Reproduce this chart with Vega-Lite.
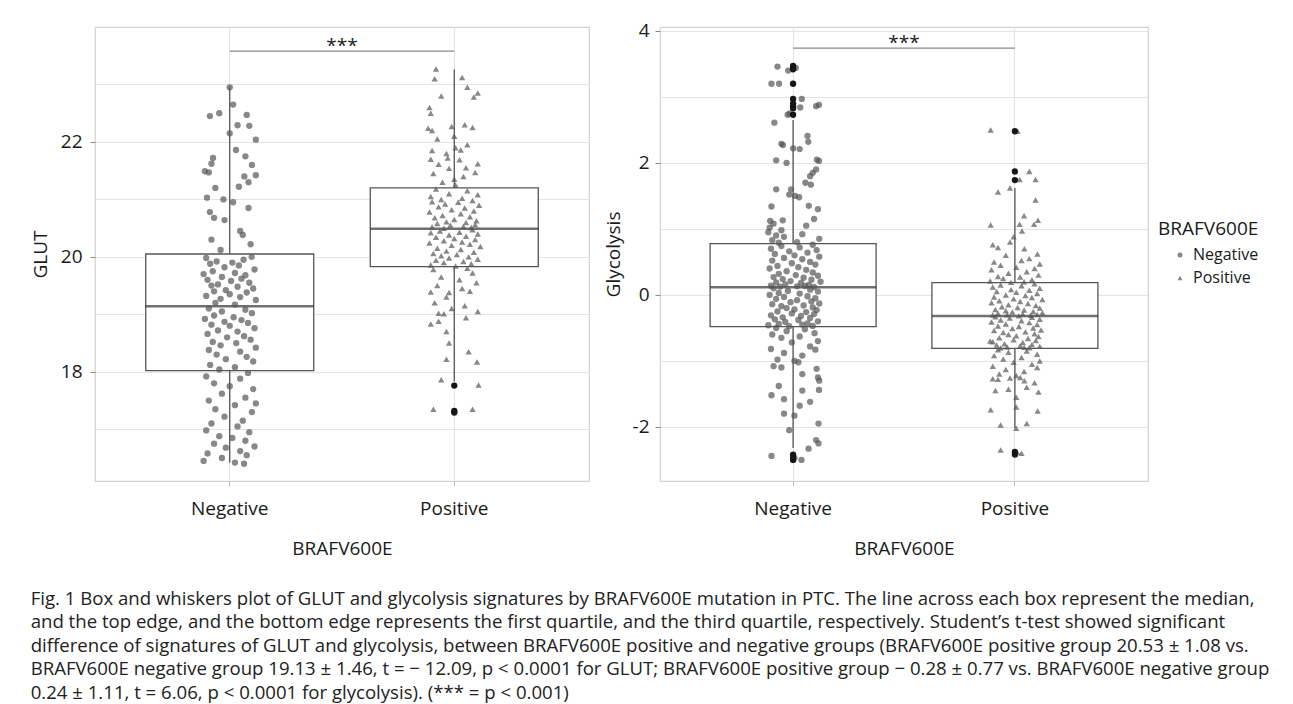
{
"$schema": "https://vega.github.io/schema/vega-lite/v6.json",
"background": "white",
"padding": {"left": 30, "top": 21, "right": 5, "bottom": 5},
"config": {
  "font": "Open Sans",
  "view": {"stroke": "#d2d2d2", "strokeWidth": 1.2},
  "axis": {"labelFont": "Open Sans", "titleFont": "Open Sans", "labelFontSize": 19, "titleFontSize": 19, "titleFontWeight": "normal", "labelColor": "#1a1a1a", "titleColor": "#1a1a1a", "gridColor": "#e4e4e4", "gridWidth": 1.2, "domain": false, "tickColor": "#bdbdbd", "tickSize": 5}
},
"title": {
  "text": [
    "Fig. 1 Box and whiskers plot of GLUT and glycolysis signatures by BRAFV600E mutation in PTC. The line across each box represent the median,",
    "and the top edge, and the bottom edge represents the first quartile, and the third quartile, respectively. Student’s t-test showed significant",
    "difference of signatures of GLUT and glycolysis, between BRAFV600E positive and negative groups (BRAFV600E positive group 20.53 ± 1.08 vs.",
    "BRAFV600E negative group 19.13 ± 1.46, t = − 12.09, p < 0.0001 for GLUT; BRAFV600E positive group − 0.28 ± 0.77 vs. BRAFV600E negative group",
    "0.24 ± 1.11, t = 6.06, p < 0.0001 for glycolysis). (*** = p < 0.001)"
  ],
  "orient": "bottom", "anchor": "start", "frame": "bounds", "font": "Open Sans", "fontSize": 18.6, "fontWeight": "normal", "color": "#222222", "lineHeight": 23.5, "offset": 31, "dx": 0
},
"datasets": {
  "glutBox": [
    {"g": "Negative", "lower": 16.42, "q1": 18.02, "median": 19.14, "q3": 20.05, "upper": 22.95},
    {"g": "Positive", "lower": 17.83, "q1": 19.83, "median": 20.49, "q3": 21.2, "upper": 23.26}
  ],
  "glutOut": [
    {"g": "Positive", "v": 17.76}, {"g": "Positive", "v": 17.32}, {"g": "Positive", "v": 17.29}
  ],
  "glutSig": [{"from": "Negative", "to": "Positive", "y": 23.58, "label": "***"}],
  "glyBox": [
    {"g": "Negative", "lower": -2.32, "q1": -0.48, "median": 0.116, "q3": 0.777, "upper": 2.65},
    {"g": "Positive", "lower": -2.02, "q1": -0.81, "median": -0.32, "q3": 0.186, "upper": 1.62}
  ],
  "glyOut": [
    {"g": "Negative", "v": 3.47}, {"g": "Negative", "v": 3.42}, {"g": "Negative", "v": 3.44}, {"g": "Negative", "v": 3.2}, {"g": "Negative", "v": 2.97}, {"g": "Negative", "v": 2.9}, {"g": "Negative", "v": 2.86}, {"g": "Negative", "v": 2.83}, {"g": "Negative", "v": 2.73}, {"g": "Negative", "v": -2.42}, {"g": "Negative", "v": -2.47}, {"g": "Negative", "v": -2.5},
    {"g": "Positive", "v": 2.48}, {"g": "Positive", "v": 1.87}, {"g": "Positive", "v": 1.74}, {"g": "Positive", "v": -2.38}, {"g": "Positive", "v": -2.42}
  ],
  "glySig": [{"from": "Negative", "to": "Positive", "y": 3.74, "label": "***"}],
  "glut": [
    {"g":"Negative","v":22.95,"j":0},{"g":"Negative","v":22.65,"j":0.013},{"g":"Negative","v":22.5,"j":-0.04},{"g":"Negative","v":22.45,"j":-0.076},{"g":"Negative","v":22.47,"j":0.065},{"g":"Negative","v":22.29,"j":0.03},{"g":"Negative","v":22.28,"j":0.075},{"g":"Negative","v":22.15,"j":0},{"g":"Negative","v":22.04,"j":0.1},{"g":"Negative","v":21.86,"j":0.024},{"g":"Negative","v":21.72,"j":-0.064},{"g":"Negative","v":21.75,"j":0.06},{"g":"Negative","v":21.62,"j":-0.07},{"g":"Negative","v":21.6,"j":0.085},{"g":"Negative","v":21.49,"j":-0.095},{"g":"Negative","v":21.47,"j":-0.08},{"g":"Negative","v":21.4,"j":0.056},{"g":"Negative","v":21.42,"j":0.1},{"g":"Negative","v":21.22,"j":0.035},{"g":"Negative","v":21.3,"j":0.072},{"g":"Negative","v":21.2,"j":-0.055},{"g":"Negative","v":21.03,"j":-0.087},{"g":"Negative","v":21.0,"j":-0.024},{"g":"Negative","v":20.95,"j":0.013},{"g":"Negative","v":20.85,"j":0.072},{"g":"Negative","v":20.78,"j":-0.076},{"g":"Negative","v":20.64,"j":-0.02},{"g":"Negative","v":20.68,"j":-0.06},{"g":"Negative","v":20.45,"j":0.04},{"g":"Negative","v":20.38,"j":0.05},{"g":"Negative","v":20.3,"j":-0.07},{"g":"Negative","v":20.22,"j":0.08},{"g":"Negative","v":20.12,"j":-0.035},
    {"g":"Negative","v":20.0,"j":0.084},{"g":"Negative","v":19.98,"j":-0.09},{"g":"Negative","v":19.95,"j":0.053},{"g":"Negative","v":19.92,"j":-0.05},{"g":"Negative","v":19.9,"j":0.01},{"g":"Negative","v":19.88,"j":-0.075},{"g":"Negative","v":19.85,"j":0.035},{"g":"Negative","v":19.82,"j":-0.02},{"g":"Negative","v":19.78,"j":0.095},{"g":"Negative","v":19.75,"j":-0.065},{"g":"Negative","v":19.72,"j":0.02},{"g":"Negative","v":19.7,"j":-0.1},{"g":"Negative","v":19.68,"j":0.06},{"g":"Negative","v":19.65,"j":-0.03},{"g":"Negative","v":19.62,"j":0.045},{"g":"Negative","v":19.6,"j":-0.085},{"g":"Negative","v":19.58,"j":0.005},{"g":"Negative","v":19.55,"j":0.075},{"g":"Negative","v":19.52,"j":-0.045},{"g":"Negative","v":19.5,"j":-0.07},{"g":"Negative","v":19.48,"j":0.03},{"g":"Negative","v":19.45,"j":0.09},{"g":"Negative","v":19.42,"j":-0.015},{"g":"Negative","v":19.4,"j":-0.06},{"g":"Negative","v":19.38,"j":0.065},{"g":"Negative","v":19.35,"j":0},{"g":"Negative","v":19.32,"j":-0.09},{"g":"Negative","v":19.3,"j":0.04},{"g":"Negative","v":19.27,"j":-0.035},{"g":"Negative","v":19.25,"j":0.1},{"g":"Negative","v":19.2,"j":-0.055},{"g":"Negative","v":19.17,"j":0.02},
    {"g":"Negative","v":19.1,"j":-0.08},{"g":"Negative","v":19.08,"j":0.06},{"g":"Negative","v":19.05,"j":-0.03},{"g":"Negative","v":19.02,"j":0.085},{"g":"Negative","v":18.98,"j":-0.06},{"g":"Negative","v":18.95,"j":0.015},{"g":"Negative","v":18.92,"j":-0.095},{"g":"Negative","v":18.9,"j":0.045},{"g":"Negative","v":18.87,"j":-0.02},{"g":"Negative","v":18.85,"j":0.07},{"g":"Negative","v":18.82,"j":-0.07},{"g":"Negative","v":18.8,"j":0},{"g":"Negative","v":18.76,"j":0.095},{"g":"Negative","v":18.72,"j":-0.045},{"g":"Negative","v":18.7,"j":0.03},{"g":"Negative","v":18.66,"j":-0.085},{"g":"Negative","v":18.62,"j":0.055},{"g":"Negative","v":18.6,"j":-0.01},{"g":"Negative","v":18.56,"j":0.08},{"g":"Negative","v":18.52,"j":-0.065},{"g":"Negative","v":18.5,"j":0.025},{"g":"Negative","v":18.46,"j":-0.035},{"g":"Negative","v":18.42,"j":0.1},{"g":"Negative","v":18.38,"j":-0.08},{"g":"Negative","v":18.35,"j":0.04},{"g":"Negative","v":18.3,"j":-0.05},{"g":"Negative","v":18.26,"j":0.065},{"g":"Negative","v":18.22,"j":-0.015},{"g":"Negative","v":18.18,"j":0.09},{"g":"Negative","v":18.12,"j":-0.075},{"g":"Negative","v":18.08,"j":0.02},{"g":"Negative","v":18.04,"j":-0.04},
    {"g":"Negative","v":17.98,"j":0.07},{"g":"Negative","v":17.92,"j":-0.09},{"g":"Negative","v":17.88,"j":0.04},{"g":"Negative","v":17.8,"j":-0.06},{"g":"Negative","v":17.75,"j":0},{"g":"Negative","v":17.7,"j":0.09},{"g":"Negative","v":17.62,"j":-0.03},{"g":"Negative","v":17.55,"j":0.06},{"g":"Negative","v":17.5,"j":-0.08},{"g":"Negative","v":17.45,"j":0.1},{"g":"Negative","v":17.42,"j":0.02},{"g":"Negative","v":17.35,"j":-0.055},{"g":"Negative","v":17.3,"j":0.085},{"g":"Negative","v":17.22,"j":-0.02},{"g":"Negative","v":17.15,"j":0.05},{"g":"Negative","v":17.1,"j":-0.07},{"g":"Negative","v":17.05,"j":0.03},{"g":"Negative","v":16.98,"j":-0.09},{"g":"Negative","v":16.95,"j":0.075},{"g":"Negative","v":16.88,"j":-0.04},{"g":"Negative","v":16.85,"j":0.01},{"g":"Negative","v":16.8,"j":0.06},{"g":"Negative","v":16.75,"j":-0.06},{"g":"Negative","v":16.7,"j":0.095},{"g":"Negative","v":16.68,"j":-0.015},{"g":"Negative","v":16.62,"j":0.04},{"g":"Negative","v":16.58,"j":-0.085},{"g":"Negative","v":16.55,"j":0.065},{"g":"Negative","v":16.5,"j":-0.03},{"g":"Negative","v":16.45,"j":-0.1},{"g":"Negative","v":16.42,"j":0.02},{"g":"Negative","v":16.4,"j":0.055},
    {"g":"Positive","v":23.27,"j":-0.07},{"g":"Positive","v":23.1,"j":-0.075},{"g":"Positive","v":23.12,"j":0.03},{"g":"Positive","v":22.95,"j":0.05},{"g":"Positive","v":22.85,"j":0.09},{"g":"Positive","v":22.78,"j":0.075},{"g":"Positive","v":22.8,"j":-0.05},{"g":"Positive","v":22.6,"j":-0.095},{"g":"Positive","v":22.5,"j":-0.09},{"g":"Positive","v":22.27,"j":-0.01},{"g":"Positive","v":22.3,"j":0.04},{"g":"Positive","v":22.25,"j":0.07},{"g":"Positive","v":22.24,"j":-0.1},{"g":"Positive","v":22.2,"j":-0.085},{"g":"Positive","v":22.05,"j":-0.065},{"g":"Positive","v":22.1,"j":0},{"g":"Positive","v":21.9,"j":0.005},{"g":"Positive","v":21.85,"j":-0.085},{"g":"Positive","v":21.8,"j":-0.03},{"g":"Positive","v":21.86,"j":0.025},{"g":"Positive","v":21.7,"j":-0.09},{"g":"Positive","v":21.72,"j":-0.025},{"g":"Positive","v":21.95,"j":0.05},{"g":"Positive","v":21.69,"j":0.02},{"g":"Positive","v":21.62,"j":0.09},{"g":"Positive","v":21.55,"j":0.045},{"g":"Positive","v":21.61,"j":-0.06},{"g":"Positive","v":21.54,"j":-0.02},{"g":"Positive","v":21.45,"j":-0.08},{"g":"Positive","v":21.35,"j":0},{"g":"Positive","v":21.47,"j":0.08},{"g":"Positive","v":21.4,"j":0.035},{"g":"Positive","v":21.3,"j":-0.045},{"g":"Positive","v":21.25,"j":0.005},
    {"g":"Positive","v":21.18,"j":-0.07},{"g":"Positive","v":21.15,"j":0.05},{"g":"Positive","v":21.1,"j":-0.02},{"g":"Positive","v":21.08,"j":0.09},{"g":"Positive","v":21.05,"j":-0.09},{"g":"Positive","v":21.02,"j":0.03},{"g":"Positive","v":21.0,"j":-0.05},{"g":"Positive","v":20.98,"j":0.07},{"g":"Positive","v":20.96,"j":-0.085},{"g":"Positive","v":20.95,"j":0.015},{"g":"Positive","v":20.92,"j":-0.035},{"g":"Positive","v":20.9,"j":0.095},{"g":"Positive","v":20.87,"j":-0.06},{"g":"Positive","v":20.85,"j":0.04},{"g":"Positive","v":20.82,"j":-0.01},{"g":"Positive","v":20.8,"j":0.075},{"g":"Positive","v":20.78,"j":-0.095},{"g":"Positive","v":20.75,"j":0.025},{"g":"Positive","v":20.72,"j":-0.045},{"g":"Positive","v":20.7,"j":0.06},{"g":"Positive","v":20.68,"j":-0.075},{"g":"Positive","v":20.65,"j":0},{"g":"Positive","v":20.63,"j":0.085},{"g":"Positive","v":20.61,"j":-0.03},{"g":"Positive","v":20.6,"j":0.045},{"g":"Positive","v":20.58,"j":-0.065},{"g":"Positive","v":20.56,"j":0.08},{"g":"Positive","v":20.55,"j":-0.015},{"g":"Positive","v":20.53,"j":0.035},{"g":"Positive","v":20.52,"j":-0.085},{"g":"Positive","v":20.51,"j":0.065},{"g":"Positive","v":20.5,"j":-0.04},
    {"g":"Positive","v":20.47,"j":0.07},{"g":"Positive","v":20.45,"j":-0.055},{"g":"Positive","v":20.43,"j":0.02},{"g":"Positive","v":20.42,"j":-0.09},{"g":"Positive","v":20.4,"j":0.09},{"g":"Positive","v":20.38,"j":-0.02},{"g":"Positive","v":20.36,"j":0.045},{"g":"Positive","v":20.34,"j":-0.07},{"g":"Positive","v":20.32,"j":0},{"g":"Positive","v":20.3,"j":0.08},{"g":"Positive","v":20.28,"j":-0.04},{"g":"Positive","v":20.26,"j":0.03},{"g":"Positive","v":20.24,"j":-0.095},{"g":"Positive","v":20.22,"j":0.06},{"g":"Positive","v":20.2,"j":-0.01},{"g":"Positive","v":20.18,"j":0.1},{"g":"Positive","v":20.15,"j":-0.065},{"g":"Positive","v":20.13,"j":0.025},{"g":"Positive","v":20.1,"j":-0.03},{"g":"Positive","v":20.08,"j":0.075},{"g":"Positive","v":20.06,"j":-0.08},{"g":"Positive","v":20.04,"j":0.01},{"g":"Positive","v":20.02,"j":-0.05},{"g":"Positive","v":20.0,"j":0.055},{"g":"Positive","v":19.98,"j":-0.02},{"g":"Positive","v":19.96,"j":0.09},{"g":"Positive","v":19.94,"j":-0.07},{"g":"Positive","v":19.92,"j":0.035},{"g":"Positive","v":19.9,"j":-0.04},{"g":"Positive","v":19.88,"j":0.065},{"g":"Positive","v":19.86,"j":-0.09},{"g":"Positive","v":19.84,"j":0.005},
    {"g":"Positive","v":19.8,"j":0.05},{"g":"Positive","v":19.78,"j":-0.08},{"g":"Positive","v":19.72,"j":0.07},{"g":"Positive","v":19.65,"j":-0.05},{"g":"Positive","v":19.6,"j":0.02},{"g":"Positive","v":19.55,"j":0.085},{"g":"Positive","v":19.5,"j":-0.065},{"g":"Positive","v":19.45,"j":0.03},{"g":"Positive","v":19.39,"j":-0.09},{"g":"Positive","v":19.38,"j":-0.02},{"g":"Positive","v":19.4,"j":0.06},{"g":"Positive","v":19.3,"j":-0.03},{"g":"Positive","v":19.2,"j":-0.075},{"g":"Positive","v":19.15,"j":0.04},{"g":"Positive","v":19.1,"j":-0.01},{"g":"Positive","v":19.05,"j":0.09},{"g":"Positive","v":19.02,"j":-0.06},{"g":"Positive","v":19.01,"j":-0.04},{"g":"Positive","v":18.94,"j":0.045},{"g":"Positive","v":18.88,"j":-0.06},{"g":"Positive","v":18.83,"j":-0.09},{"g":"Positive","v":18.7,"j":-0.03},{"g":"Positive","v":18.5,"j":-0.02},{"g":"Positive","v":18.35,"j":0.055},{"g":"Positive","v":18.22,"j":-0.03},{"g":"Positive","v":18.17,"j":0.087},{"g":"Positive","v":17.86,"j":-0.05},{"g":"Positive","v":17.77,"j":0.093},{"g":"Positive","v":17.35,"j":-0.08},{"g":"Positive","v":17.35,"j":0.07}
  ],
  "gly": [
    {"g":"Negative","v":3.46,"j":-0.065},{"g":"Negative","v":3.4,"j":-0.024},{"g":"Negative","v":3.44,"j":0.005},{"g":"Negative","v":3.2,"j":-0.088},{"g":"Negative","v":3.2,"j":-0.059},{"g":"Negative","v":2.97,"j":0.028},{"g":"Negative","v":2.84,"j":0.022},{"g":"Negative","v":2.86,"j":0.083},{"g":"Negative","v":2.88,"j":0.094},{"g":"Negative","v":2.61,"j":-0.077},{"g":"Negative","v":2.73,"j":-0.026},{"g":"Negative","v":2.75,"j":-0.018},{"g":"Negative","v":2.41,"j":0.05},{"g":"Negative","v":2.32,"j":0.053},{"g":"Negative","v":2.29,"j":-0.05},{"g":"Negative","v":2.27,"j":-0.044},{"g":"Negative","v":2.21,"j":0.02},{"g":"Negative","v":2.22,"j":-0.005},{"g":"Negative","v":2.04,"j":-0.07},{"g":"Negative","v":2.0,"j":-0.03},{"g":"Negative","v":2.05,"j":0.086},{"g":"Negative","v":2.03,"j":0.094},{"g":"Negative","v":1.9,"j":0.083},{"g":"Negative","v":1.85,"j":0.07},{"g":"Negative","v":1.8,"j":0.06},{"g":"Negative","v":1.7,"j":0.042},{"g":"Negative","v":1.67,"j":0.063},{"g":"Negative","v":1.6,"j":-0.07},{"g":"Negative","v":1.6,"j":-0.013},{"g":"Negative","v":1.52,"j":-0.02},{"g":"Negative","v":1.48,"j":0.018},{"g":"Negative","v":1.5,"j":0.002},{"g":"Negative","v":1.35,"j":0.055},{"g":"Negative","v":1.3,"j":0.09},{"g":"Negative","v":1.34,"j":-0.088},{"g":"Negative","v":1.15,"j":0.075},{"g":"Negative","v":1.12,"j":-0.093},{"g":"Negative","v":1.08,"j":-0.08},{"g":"Negative","v":1.13,"j":-0.045},{"g":"Negative","v":1.02,"j":-0.095},{"g":"Negative","v":0.98,"j":-0.05},{"g":"Negative","v":1.05,"j":0.045},{"g":"Negative","v":0.95,"j":-0.1},{"g":"Negative","v":0.92,"j":0.03},{"g":"Negative","v":0.9,"j":-0.07},{"g":"Negative","v":0.88,"j":-0.04},{"g":"Negative","v":0.85,"j":0.095},{"g":"Negative","v":0.83,"j":-0.085},{"g":"Negative","v":0.8,"j":0.01},{"g":"Negative","v":0.79,"j":-0.06},
    {"g":"Negative","v":0.76,"j":0.07},{"g":"Negative","v":0.74,"j":-0.05},{"g":"Negative","v":0.72,"j":0.02},{"g":"Negative","v":0.7,"j":-0.09},{"g":"Negative","v":0.68,"j":0.085},{"g":"Negative","v":0.66,"j":-0.02},{"g":"Negative","v":0.64,"j":0.05},{"g":"Negative","v":0.62,"j":-0.075},{"g":"Negative","v":0.6,"j":0},{"g":"Negative","v":0.58,"j":0.095},{"g":"Negative","v":0.56,"j":-0.04},{"g":"Negative","v":0.54,"j":0.03},{"g":"Negative","v":0.52,"j":-0.085},{"g":"Negative","v":0.5,"j":0.06},{"g":"Negative","v":0.48,"j":-0.01},{"g":"Negative","v":0.46,"j":0.08},{"g":"Negative","v":0.44,"j":-0.065},{"g":"Negative","v":0.42,"j":0.015},{"g":"Negative","v":0.4,"j":-0.095},{"g":"Negative","v":0.38,"j":0.045},{"g":"Negative","v":0.36,"j":-0.03},{"g":"Negative","v":0.34,"j":0.07},{"g":"Negative","v":0.32,"j":-0.06},{"g":"Negative","v":0.3,"j":0.005},{"g":"Negative","v":0.29,"j":0.09},{"g":"Negative","v":0.27,"j":-0.08},{"g":"Negative","v":0.26,"j":0.035},{"g":"Negative","v":0.24,"j":-0.045},{"g":"Negative","v":0.23,"j":0.065},{"g":"Negative","v":0.21,"j":-0.015},{"g":"Negative","v":0.2,"j":0.1},{"g":"Negative","v":0.19,"j":-0.07},{"g":"Negative","v":0.18,"j":0.025},{"g":"Negative","v":0.16,"j":-0.035},{"g":"Negative","v":0.15,"j":0.055},{"g":"Negative","v":0.14,"j":-0.09},{"g":"Negative","v":0.13,"j":0.01},{"g":"Negative","v":0.12,"j":0.075},{"g":"Negative","v":0.125,"j":-0.055},{"g":"Negative","v":0.135,"j":0.04},
    {"g":"Negative","v":0.1,"j":-0.08},{"g":"Negative","v":0.08,"j":0.06},{"g":"Negative","v":0.06,"j":-0.025},{"g":"Negative","v":0.05,"j":0.09},{"g":"Negative","v":0.03,"j":-0.06},{"g":"Negative","v":0.02,"j":0.02},{"g":"Negative","v":0.0,"j":-0.095},{"g":"Negative","v":-0.02,"j":0.05},{"g":"Negative","v":-0.03,"j":-0.04},{"g":"Negative","v":-0.05,"j":0.08},{"g":"Negative","v":-0.06,"j":-0.07},{"g":"Negative","v":-0.08,"j":0.01},{"g":"Negative","v":-0.1,"j":0.065},{"g":"Negative","v":-0.11,"j":-0.015},{"g":"Negative","v":-0.13,"j":0.095},{"g":"Negative","v":-0.14,"j":-0.085},{"g":"Negative","v":-0.16,"j":0.035},{"g":"Negative","v":-0.17,"j":-0.05},{"g":"Negative","v":-0.19,"j":0.07},{"g":"Negative","v":-0.2,"j":-0.03},{"g":"Negative","v":-0.22,"j":0},{"g":"Negative","v":-0.23,"j":0.085},{"g":"Negative","v":-0.25,"j":-0.065},{"g":"Negative","v":-0.26,"j":0.045},{"g":"Negative","v":-0.28,"j":-0.01},{"g":"Negative","v":-0.29,"j":0.075},{"g":"Negative","v":-0.31,"j":-0.09},{"g":"Negative","v":-0.32,"j":0.025},{"g":"Negative","v":-0.34,"j":-0.045},{"g":"Negative","v":-0.35,"j":0.06},{"g":"Negative","v":-0.37,"j":-0.075},{"g":"Negative","v":-0.38,"j":0.015},{"g":"Negative","v":-0.4,"j":0.09},{"g":"Negative","v":-0.41,"j":-0.035},{"g":"Negative","v":-0.43,"j":0.05},{"g":"Negative","v":-0.44,"j":-0.06},{"g":"Negative","v":-0.45,"j":0.03},{"g":"Negative","v":-0.46,"j":-0.1},{"g":"Negative","v":-0.47,"j":0.07},{"g":"Negative","v":-0.475,"j":-0.02},
    {"g":"Negative","v":-0.5,"j":-0.07},{"g":"Negative","v":-0.52,"j":0.04},{"g":"Negative","v":-0.55,"j":-0.03},{"g":"Negative","v":-0.58,"j":0.077},{"g":"Negative","v":-0.6,"j":-0.085},{"g":"Negative","v":-0.63,"j":0.02},{"g":"Negative","v":-0.65,"j":-0.05},{"g":"Negative","v":-0.7,"j":0.09},{"g":"Negative","v":-0.72,"j":-0.01},{"g":"Negative","v":-0.78,"j":0.06},{"g":"Negative","v":-0.82,"j":-0.09},{"g":"Negative","v":-0.83,"j":0.08},{"g":"Negative","v":-0.88,"j":-0.04},{"g":"Negative","v":-0.92,"j":0.03},{"g":"Negative","v":-0.98,"j":-0.065},{"g":"Negative","v":-1.0,"j":0},{"g":"Negative","v":-1.02,"j":0.015},{"g":"Negative","v":-1.08,"j":-0.08},{"g":"Negative","v":-1.1,"j":-0.05},{"g":"Negative","v":-1.12,"j":0.085},{"g":"Negative","v":-1.2,"j":0.03},{"g":"Negative","v":-1.25,"j":0.09},{"g":"Negative","v":-1.3,"j":0.095},{"g":"Negative","v":-1.38,"j":-0.06},{"g":"Negative","v":-1.45,"j":0.03},{"g":"Negative","v":-1.44,"j":0.094},{"g":"Negative","v":-1.52,"j":-0.088},{"g":"Negative","v":-1.58,"j":-0.04},{"g":"Negative","v":-1.62,"j":0.06},{"g":"Negative","v":-1.68,"j":0.02},{"g":"Negative","v":-1.8,"j":-0.04},{"g":"Negative","v":-1.83,"j":0},{"g":"Negative","v":-1.95,"j":0.092},{"g":"Negative","v":-2.05,"j":-0.02},{"g":"Negative","v":-2.2,"j":0.083},{"g":"Negative","v":-2.25,"j":0.092},{"g":"Negative","v":-2.33,"j":0.054},{"g":"Negative","v":-2.44,"j":-0.088},{"g":"Negative","v":-2.5,"j":0.027},{"g":"Negative","v":-2.47,"j":0},
    {"g":"Positive","v":2.5,"j":-0.098},{"g":"Positive","v":2.48,"j":0.005},{"g":"Positive","v":1.87,"j":0.05},{"g":"Positive","v":1.75,"j":0.074},{"g":"Positive","v":1.75,"j":0.013},{"g":"Positive","v":1.62,"j":-0.024},{"g":"Positive","v":1.56,"j":-0.07},{"g":"Positive","v":1.44,"j":0.074},{"g":"Positive","v":1.2,"j":0.03},{"g":"Positive","v":1.06,"j":-0.098},{"g":"Positive","v":1.07,"j":0.013},{"g":"Positive","v":1.13,"j":0.083},{"g":"Positive","v":1.07,"j":0.068},{"g":"Positive","v":0.97,"j":0.022},{"g":"Positive","v":0.88,"j":-0.01},{"g":"Positive","v":0.76,"j":-0.09},{"g":"Positive","v":0.72,"j":-0.07},{"g":"Positive","v":0.8,"j":-0.024},{"g":"Positive","v":0.7,"j":0.031},{"g":"Positive","v":0.62,"j":0.081},{"g":"Positive","v":0.6,"j":-0.04},{"g":"Positive","v":0.55,"j":0.05},{"g":"Positive","v":0.5,"j":-0.085},{"g":"Positive","v":0.52,"j":0.02},{"g":"Positive","v":0.47,"j":0.09},{"g":"Positive","v":0.45,"j":-0.06},{"g":"Positive","v":0.42,"j":0},{"g":"Positive","v":0.4,"j":0.07},{"g":"Positive","v":0.38,"j":-0.095},{"g":"Positive","v":0.35,"j":0.04},{"g":"Positive","v":0.33,"j":-0.03},{"g":"Positive","v":0.3,"j":0.085},{"g":"Positive","v":0.28,"j":-0.07},{"g":"Positive","v":0.27,"j":0.015},{"g":"Positive","v":0.25,"j":-0.05},{"g":"Positive","v":0.23,"j":0.06},{"g":"Positive","v":0.21,"j":-0.1},{"g":"Positive","v":0.2,"j":0.03},{"g":"Positive","v":0.19,"j":-0.02},
    {"g":"Positive","v":0.17,"j":0.07},{"g":"Positive","v":0.15,"j":-0.06},{"g":"Positive","v":0.14,"j":0.02},{"g":"Positive","v":0.12,"j":-0.09},{"g":"Positive","v":0.1,"j":0.09},{"g":"Positive","v":0.08,"j":-0.02},{"g":"Positive","v":0.07,"j":0.05},{"g":"Positive","v":0.05,"j":-0.075},{"g":"Positive","v":0.04,"j":0},{"g":"Positive","v":0.02,"j":0.08},{"g":"Positive","v":0.0,"j":-0.04},{"g":"Positive","v":-0.01,"j":0.035},{"g":"Positive","v":-0.03,"j":-0.085},{"g":"Positive","v":-0.04,"j":0.06},{"g":"Positive","v":-0.06,"j":-0.01},{"g":"Positive","v":-0.07,"j":0.1},{"g":"Positive","v":-0.09,"j":-0.065},{"g":"Positive","v":-0.1,"j":0.015},{"g":"Positive","v":-0.12,"j":-0.095},{"g":"Positive","v":-0.13,"j":0.045},{"g":"Positive","v":-0.15,"j":-0.03},{"g":"Positive","v":-0.16,"j":0.075},{"g":"Positive","v":-0.18,"j":-0.055},{"g":"Positive","v":-0.19,"j":0.005},{"g":"Positive","v":-0.2,"j":0.09},{"g":"Positive","v":-0.22,"j":-0.08},{"g":"Positive","v":-0.23,"j":0.03},{"g":"Positive","v":-0.24,"j":-0.04},{"g":"Positive","v":-0.25,"j":0.065},{"g":"Positive","v":-0.26,"j":-0.015},{"g":"Positive","v":-0.27,"j":0.1},{"g":"Positive","v":-0.28,"j":-0.07},{"g":"Positive","v":-0.29,"j":0.025},{"g":"Positive","v":-0.3,"j":-0.035},{"g":"Positive","v":-0.31,"j":0.055},{"g":"Positive","v":-0.305,"j":-0.09},{"g":"Positive","v":-0.315,"j":0.01},{"g":"Positive","v":-0.295,"j":0.08},
    {"g":"Positive","v":-0.33,"j":-0.08},{"g":"Positive","v":-0.34,"j":0.06},{"g":"Positive","v":-0.35,"j":-0.025},{"g":"Positive","v":-0.37,"j":0.09},{"g":"Positive","v":-0.38,"j":-0.06},{"g":"Positive","v":-0.39,"j":0.02},{"g":"Positive","v":-0.41,"j":-0.095},{"g":"Positive","v":-0.42,"j":0.05},{"g":"Positive","v":-0.44,"j":-0.04},{"g":"Positive","v":-0.45,"j":0.08},{"g":"Positive","v":-0.47,"j":-0.07},{"g":"Positive","v":-0.48,"j":0.01},{"g":"Positive","v":-0.5,"j":0.065},{"g":"Positive","v":-0.51,"j":-0.015},{"g":"Positive","v":-0.53,"j":0.095},{"g":"Positive","v":-0.54,"j":-0.085},{"g":"Positive","v":-0.56,"j":0.035},{"g":"Positive","v":-0.57,"j":-0.05},{"g":"Positive","v":-0.59,"j":0.07},{"g":"Positive","v":-0.6,"j":-0.03},{"g":"Positive","v":-0.62,"j":0},{"g":"Positive","v":-0.63,"j":0.085},{"g":"Positive","v":-0.65,"j":-0.065},{"g":"Positive","v":-0.66,"j":0.045},{"g":"Positive","v":-0.68,"j":-0.01},{"g":"Positive","v":-0.69,"j":0.075},{"g":"Positive","v":-0.71,"j":-0.09},{"g":"Positive","v":-0.72,"j":0.025},{"g":"Positive","v":-0.74,"j":-0.045},{"g":"Positive","v":-0.75,"j":0.06},{"g":"Positive","v":-0.76,"j":-0.075},{"g":"Positive","v":-0.77,"j":0.015},{"g":"Positive","v":-0.78,"j":0.09},{"g":"Positive","v":-0.79,"j":-0.035},{"g":"Positive","v":-0.8,"j":0.05},{"g":"Positive","v":-0.805,"j":-0.06},{"g":"Positive","v":-0.795,"j":0.03},{"g":"Positive","v":-0.7,"j":-0.1},
    {"g":"Positive","v":-0.83,"j":-0.07},{"g":"Positive","v":-0.85,"j":0.04},{"g":"Positive","v":-0.87,"j":-0.03},{"g":"Positive","v":-0.9,"j":0.08},{"g":"Positive","v":-0.92,"j":-0.085},{"g":"Positive","v":-0.95,"j":0.02},{"g":"Positive","v":-0.97,"j":-0.05},{"g":"Positive","v":-1.0,"j":0.09},{"g":"Positive","v":-1.02,"j":-0.01},{"g":"Positive","v":-1.05,"j":0.06},{"g":"Positive","v":-1.08,"j":-0.09},{"g":"Positive","v":-1.1,"j":0.08},{"g":"Positive","v":-1.13,"j":-0.04},{"g":"Positive","v":-1.16,"j":0.03},{"g":"Positive","v":-1.2,"j":-0.065},{"g":"Positive","v":-1.22,"j":0},{"g":"Positive","v":-1.25,"j":0.015},{"g":"Positive","v":-1.27,"j":-0.09},{"g":"Positive","v":-1.28,"j":-0.07},{"g":"Positive","v":-1.26,"j":-0.024},{"g":"Positive","v":-1.3,"j":0.031},{"g":"Positive","v":-1.33,"j":0.07},{"g":"Positive","v":-1.45,"j":-0.08},{"g":"Positive","v":-1.43,"j":-0.03},{"g":"Positive","v":-1.4,"j":0.04},{"g":"Positive","v":-1.47,"j":0.085},{"g":"Positive","v":-1.55,"j":0},{"g":"Positive","v":-1.74,"j":-0.098},{"g":"Positive","v":-1.7,"j":0},{"g":"Positive","v":-1.76,"j":0.082},{"g":"Positive","v":-1.97,"j":-0.06},{"g":"Positive","v":-1.95,"j":0.04},{"g":"Positive","v":-2.02,"j":0},{"g":"Positive","v":-2.35,"j":-0.06},{"g":"Positive","v":-2.4,"j":0.02},{"g":"Positive","v":-2.38,"j":0.003}
  ]
},
"spacing": 13,
"resolve": {"scale": {"shape": "independent"}, "legend": {"shape": "independent"}},
"hconcat": [
  {
    "width": 494, "height": 454,
    "layer": [
      {"data": {"name": "glutBox"}, "mark": {"type": "rule", "color": "#555555", "strokeWidth": 1.3},
       "encoding": {
         "x": {"field": "g", "type": "nominal", "scale": {"type": "band", "domain": ["Negative", "Positive"], "paddingInner": 0, "paddingOuter": 0.1},
               "axis": {"title": "BRAFV600E", "labelAngle": 0, "labelPadding": 13, "titlePadding": 21, "grid": true, "ticks": true}},
         "y": {"field": "lower", "type": "quantitative", "scale": {"domain": [16.1, 24.0], "nice": false, "zero": false},
               "axis": {"title": "GLUT", "values": [17, 18, 19, 20, 21, 22, 23], "labelExpr": "datum.value % 2 === 0 ? '' + datum.value : ''", "tickColor": {"condition": {"test": "datum.value % 2 === 0", "value": "#8a8a8a"}, "value": "transparent"}, "labelPadding": 8, "titlePadding": 10, "grid": true}},
         "y2": {"field": "upper"}
       }},
      {"data": {"name": "glutBox"}, "mark": {"type": "bar", "fill": "white", "stroke": "#555555", "strokeWidth": 1.3, "size": 168},
       "encoding": {"x": {"field": "g", "type": "nominal"}, "y": {"field": "q1", "type": "quantitative"}, "y2": {"field": "q3"}}},
      {"data": {"name": "glutBox"}, "mark": {"type": "tick", "color": "#333333", "thickness": 2.5, "size": 168},
       "encoding": {"x": {"field": "g", "type": "nominal"}, "y": {"field": "median", "type": "quantitative"}}},
      {"data": {"name": "glut"}, "mark": {"type": "point", "filled": true, "color": "#555555", "opacity": 0.7, "size": 40},
       "encoding": {
         "x": {"field": "g", "type": "nominal"},
         "xOffset": {"field": "j", "type": "quantitative", "scale": {"domain": [-0.43, 0.43]}},
         "y": {"field": "v", "type": "quantitative"},
         "shape": {"field": "g", "type": "nominal", "scale": {"domain": ["Negative", "Positive"], "range": ["circle", "triangle-up"]}, "legend": null}
       }},
      {"data": {"name": "glutOut"}, "mark": {"type": "circle", "color": "#151515", "opacity": 1, "size": 40},
       "encoding": {"x": {"field": "g", "type": "nominal"}, "y": {"field": "v", "type": "quantitative"}}},
      {"data": {"name": "glutSig"}, "mark": {"type": "rule", "color": "#8a8a8a", "strokeWidth": 1.4},
       "encoding": {"x": {"field": "from", "type": "nominal"}, "x2": {"field": "to"}, "y": {"field": "y", "type": "quantitative"}}},
      {"data": {"name": "glutSig"}, "mark": {"type": "text", "baseline": "alphabetic", "fontSize": 19, "font": "Open Sans", "color": "#222222", "dy": 1},
       "encoding": {"x": {"field": "from", "type": "nominal", "bandPosition": 1}, "y": {"field": "y", "type": "quantitative"}, "text": {"field": "label"}}}
    ]
  },
  {
    "width": 488, "height": 454,
    "layer": [
      {"data": {"name": "glyBox"}, "mark": {"type": "rule", "color": "#555555", "strokeWidth": 1.3},
       "encoding": {
         "x": {"field": "g", "type": "nominal", "scale": {"type": "band", "domain": ["Negative", "Positive"], "paddingInner": 0, "paddingOuter": 0.1},
               "axis": {"title": "BRAFV600E", "labelAngle": 0, "labelPadding": 13, "titlePadding": 21, "grid": true, "ticks": true}},
         "y": {"field": "lower", "type": "quantitative", "scale": {"domain": [-2.82, 4.06], "nice": false, "zero": false},
               "axis": {"title": "Glycolysis", "values": [-2, -1, 0, 1, 2, 3, 4], "labelExpr": "datum.value % 2 === 0 ? '' + datum.value : ''", "tickColor": {"condition": {"test": "datum.value % 2 === 0", "value": "#8a8a8a"}, "value": "transparent"}, "labelPadding": 6, "titlePadding": 9, "grid": true}},
         "y2": {"field": "upper"}
       }},
      {"data": {"name": "glyBox"}, "mark": {"type": "bar", "fill": "white", "stroke": "#555555", "strokeWidth": 1.3, "size": 166},
       "encoding": {"x": {"field": "g", "type": "nominal"}, "y": {"field": "q1", "type": "quantitative"}, "y2": {"field": "q3"}}},
      {"data": {"name": "glyBox"}, "mark": {"type": "tick", "color": "#333333", "thickness": 2.5, "size": 166},
       "encoding": {"x": {"field": "g", "type": "nominal"}, "y": {"field": "median", "type": "quantitative"}}},
      {"data": {"name": "gly"}, "mark": {"type": "point", "filled": true, "color": "#555555", "opacity": 0.7, "size": 40},
       "encoding": {
         "x": {"field": "g", "type": "nominal"},
         "xOffset": {"field": "j", "type": "quantitative", "scale": {"domain": [-0.43, 0.43]}},
         "y": {"field": "v", "type": "quantitative"},
         "shape": {"field": "g", "type": "nominal", "scale": {"domain": ["Negative", "Positive"], "range": ["circle", "triangle-up"]},
                   "legend": {"title": "BRAFV600E", "orient": "none", "legendX": 498, "legendY": 193, "titleFont": "Open Sans", "titleFontSize": 19, "titleFontWeight": "normal", "titleColor": "#1a1a1a", "titlePadding": 8, "labelFont": "Open Sans", "labelFontSize": 16, "labelColor": "#1a1a1a", "symbolFillColor": "#8a8a8a", "symbolStrokeColor": "#8a8a8a", "symbolStrokeWidth": 0, "symbolSize": 25, "symbolOffset": 14, "labelOffset": 5, "rowPadding": 7}}
       }},
      {"data": {"name": "glyOut"}, "mark": {"type": "circle", "color": "#151515", "opacity": 1, "size": 40},
       "encoding": {"x": {"field": "g", "type": "nominal"}, "y": {"field": "v", "type": "quantitative"}}},
      {"data": {"name": "glySig"}, "mark": {"type": "rule", "color": "#8a8a8a", "strokeWidth": 1.4},
       "encoding": {"x": {"field": "from", "type": "nominal"}, "x2": {"field": "to"}, "y": {"field": "y", "type": "quantitative"}}},
      {"data": {"name": "glySig"}, "mark": {"type": "text", "baseline": "alphabetic", "fontSize": 19, "font": "Open Sans", "color": "#222222", "dy": 1},
       "encoding": {"x": {"field": "from", "type": "nominal", "bandPosition": 1}, "y": {"field": "y", "type": "quantitative"}, "text": {"field": "label"}}}
    ]
  }
]
}
